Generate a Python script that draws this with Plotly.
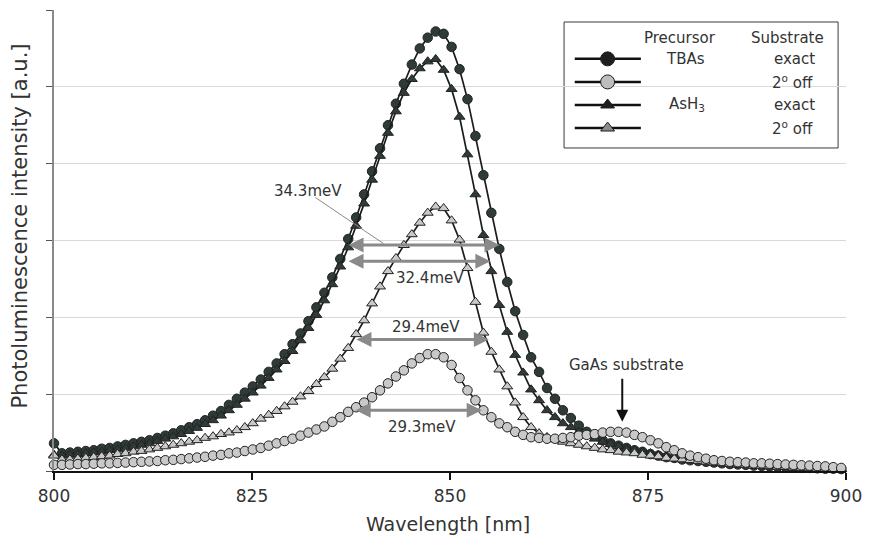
import plotly.graph_objects as go

# wavelength of each sample point as it sits on the reference's axis (100 points, ~1.004 nm apart)
wavelength = [round(800 + 1.004 * k, 3) for k in range(100)]

tbas_exact = [
    0.36, 0.23, 0.24, 0.25, 0.26, 0.27, 0.29, 0.30, 0.32, 0.34,
    0.36, 0.38, 0.40, 0.43, 0.46, 0.49, 0.53, 0.57, 0.61, 0.66,
    0.72, 0.78, 0.86, 0.94, 1.02, 1.10, 1.19, 1.29, 1.40, 1.52,
    1.65, 1.79, 1.95, 2.13, 2.32, 2.52, 2.76, 3.02, 3.30, 3.60,
    3.90, 4.20, 4.50, 4.78, 5.04, 5.29, 5.50, 5.64, 5.72, 5.69,
    5.52, 5.23, 4.84, 4.36, 3.85, 3.36, 2.89, 2.46, 2.08, 1.77,
    1.48, 1.29, 1.08, 0.94, 0.79, 0.69, 0.59, 0.51, 0.46, 0.40,
    0.36, 0.33, 0.30, 0.27, 0.25, 0.22, 0.20, 0.18, 0.17, 0.15,
    0.14, 0.13, 0.12, 0.11, 0.10, 0.09, 0.085, 0.08, 0.07, 0.065,
    0.06, 0.055, 0.05, 0.045, 0.04, 0.04, 0.035, 0.03, 0.03, 0.025,
]

tbas_off = [
    0.08, 0.08, 0.085, 0.09, 0.09, 0.095, 0.10, 0.10, 0.105, 0.11,
    0.115, 0.12, 0.125, 0.13, 0.14, 0.145, 0.155, 0.165, 0.175, 0.185,
    0.20, 0.21, 0.23, 0.24, 0.26, 0.28, 0.30, 0.33, 0.36, 0.39,
    0.42, 0.46, 0.50, 0.54, 0.58, 0.64, 0.70, 0.77, 0.83, 0.89,
    0.96, 1.05, 1.14, 1.23, 1.31, 1.40, 1.47, 1.52, 1.52, 1.48,
    1.38, 1.21, 1.05, 0.92, 0.79, 0.70, 0.62, 0.57, 0.51, 0.47,
    0.44, 0.43, 0.42, 0.42, 0.43, 0.44, 0.46, 0.47, 0.48, 0.50,
    0.51, 0.51, 0.50, 0.47, 0.44, 0.40, 0.36, 0.31, 0.27, 0.23,
    0.20, 0.18, 0.16, 0.14, 0.13, 0.12, 0.115, 0.11, 0.10, 0.10,
    0.095, 0.09, 0.085, 0.08, 0.075, 0.07, 0.065, 0.06, 0.05, 0.04,
]

ash3_exact = [
    0.21, 0.20, 0.21, 0.22, 0.23, 0.24, 0.25, 0.27, 0.28, 0.30,
    0.32, 0.34, 0.36, 0.39, 0.42, 0.45, 0.48, 0.52, 0.56, 0.61,
    0.66, 0.72, 0.79, 0.86, 0.94, 1.02, 1.11, 1.21, 1.32, 1.43,
    1.56, 1.70, 1.86, 2.03, 2.22, 2.43, 2.66, 2.91, 3.19, 3.48,
    3.79, 4.10, 4.40, 4.68, 4.92, 5.10, 5.24, 5.33, 5.36, 5.22,
    4.97, 4.61, 4.12, 3.60, 3.07, 2.60, 2.16, 1.81, 1.51, 1.28,
    1.06, 0.92, 0.79, 0.70, 0.62, 0.57, 0.51, 0.46, 0.42, 0.38,
    0.35, 0.32, 0.29, 0.27, 0.25, 0.23, 0.21, 0.19, 0.17, 0.16,
    0.14, 0.13, 0.12, 0.11, 0.10, 0.09, 0.085, 0.08, 0.07, 0.065,
    0.06, 0.055, 0.05, 0.045, 0.04, 0.04, 0.035, 0.03, 0.03, 0.025,
]

ash3_off = [
    0.20, 0.15, 0.15, 0.16, 0.17, 0.18, 0.19, 0.20, 0.22, 0.23,
    0.25, 0.26, 0.28, 0.30, 0.32, 0.34, 0.36, 0.38, 0.40, 0.43,
    0.45, 0.48, 0.50, 0.53, 0.57, 0.62, 0.68, 0.73, 0.78, 0.84,
    0.90, 0.97, 1.04, 1.13, 1.22, 1.33, 1.46, 1.60, 1.78, 1.96,
    2.18, 2.40, 2.60, 2.77, 2.94, 3.08, 3.23, 3.36, 3.44, 3.42,
    3.26, 3.01, 2.64, 2.20, 1.80, 1.55, 1.32, 1.10, 0.89, 0.70,
    0.57, 0.49, 0.44, 0.41, 0.38, 0.36, 0.34, 0.32, 0.30, 0.28,
    0.27, 0.25, 0.24, 0.23, 0.21, 0.20, 0.19, 0.17, 0.16, 0.15,
    0.14, 0.13, 0.12, 0.11, 0.10, 0.09, 0.085, 0.08, 0.07, 0.065,
    0.06, 0.055, 0.05, 0.045, 0.04, 0.035, 0.03, 0.03, 0.025, 0.02,
]

x_ticks = [800, 825, 850, 875, 900]
fwhm_labels = ["34.3meV", "32.4meV", "29.4meV", "29.3meV"]

FONT = "DejaVu Sans"
TXT = "#333333"
LINE = "#1c1c1c"
DARK = "#2f3b39"
LIGHT = "#c9c9c9"

fig = go.Figure()

series = [
    (tbas_exact, "circle", DARK),
    (ash3_exact, "triangle-up", DARK),
    (ash3_off, "triangle-up", LIGHT),
    (tbas_off, "circle", LIGHT),
]
for vals, sym, col in series:
    fig.add_trace(go.Scatter(
        x=wavelength, y=vals, mode="lines+markers", cliponaxis=False,
        line=dict(color=LINE, width=1.7),
        marker=dict(symbol=sym, size=9.5, color=col, line=dict(color="#222222", width=1)),
        showlegend=False, hoverinfo="skip",
    ))

# legend markers on an overlay axis in paper-like units
leg_x = 0.699
leg_rows = [0.894, 0.844, 0.794, 0.744]
leg_sym = ["circle", "circle", "triangle-up", "triangle-up"]
leg_col = ["#1e1e1e", "#bdbdbd", "#1e1e1e", "#8c8c8c"]
leg_size = [14, 14, 12, 12]
for yy, sym, col, sz in zip(leg_rows, leg_sym, leg_col, leg_size):
    fig.add_trace(go.Scatter(
        x=[leg_x], y=[yy], xaxis="x2", yaxis="y2", mode="markers",
        marker=dict(symbol=sym, size=sz, color=col, line=dict(color="#1e1e1e", width=1)),
        showlegend=False, hoverinfo="skip", cliponaxis=False,
    ))

shapes = [
    dict(type="rect", xref="paper", yref="paper", x0=0.644, x1=0.99, y0=0.7007, y1=0.974,
         line=dict(color="#3a3a3a", width=1), fillcolor="white", layer="between"),
]
for yy in leg_rows:
    shapes.append(dict(type="line", xref="paper", yref="paper", x0=0.6575, x1=0.741,
                       y0=yy, y1=yy, line=dict(color="#111111", width=2.5), layer="between"))
# leader line for 34.3meV
shapes.append(dict(type="line", xref="x", yref="y", x0=833.0, y0=3.56, x1=841.6, y1=2.96,
                   line=dict(color="#8a8a8a", width=1)))

annotations = []
# FWHM arrows (double headed)
arrows = [(837.0, 856.25, 2.94), (837.0, 855.1, 2.73), (838.0, 854.9, 1.71), (837.9, 854.0, 0.79)]
for x0, x1, yy in arrows:
    annotations.append(dict(
        x=x1, y=yy, ax=x0, ay=yy, xref="x", yref="y", axref="x", ayref="y",
        text="", showarrow=True, arrowhead=2, startarrowhead=2, arrowside="end+start",
        arrowsize=1.0, startarrowsize=1.0, arrowwidth=3, arrowcolor="#8a8a8a",
        standoff=0, startstandoff=0,
    ))
label_pos = [(832.1, 3.65), (847.5, 2.51), (847.0, 1.88), (846.5, 0.57)]
for txt, (lx, ly) in zip(fwhm_labels, label_pos):
    annotations.append(dict(x=lx, y=ly, xref="x", yref="y", text=txt, showarrow=False,
                            font=dict(family=FONT, size=15, color=TXT)))

# GaAs substrate
annotations.append(dict(x=872.25, y=1.38, xref="x", yref="y", text="GaAs substrate",
                        showarrow=False, font=dict(family=FONT, size=15, color=TXT)))
annotations.append(dict(x=871.75, y=0.64, ax=871.75, ay=1.22, xref="x", yref="y",
                        axref="x", ayref="y", text="", showarrow=True, arrowhead=2,
                        arrowsize=1.2, arrowwidth=2, arrowcolor="#111111", standoff=0))

# legend texts
def ptxt(t, x, y):
    annotations.append(dict(x=x, y=y, xref="paper", yref="paper", text=t, showarrow=False,
                            xanchor="center", yanchor="middle",
                            font=dict(family=FONT, size=15, color=TXT)))

ptxt("Precursor", 0.791, 0.939)
ptxt("Substrate", 0.926, 0.939)
ptxt("TBAs", 0.797, leg_rows[0])
ptxt("AsH<sub>3</sub>", 0.799, leg_rows[2])
ptxt("exact", 0.935, leg_rows[0])
ptxt("2<sup>o</sup> off", 0.9325, leg_rows[1])
ptxt("exact", 0.935, leg_rows[2])
ptxt("2<sup>o</sup> off", 0.9325, leg_rows[3])

# axis titles
annotations.append(dict(x=-0.0425, y=0.531, xref="paper", yref="paper",
                        text="Photoluminescence intensity [a.u.]", textangle=-90,
                        showarrow=False, xanchor="center", yanchor="middle",
                        font=dict(family=FONT, size=21, color=TXT)))
annotations.append(dict(x=0.4975, y=-0.115, xref="paper", yref="paper",
                        text="Wavelength [nm]", showarrow=False,
                        xanchor="center", yanchor="middle",
                        font=dict(family=FONT, size=19, color=TXT)))

fig.update_layout(
    width=872, height=539,
    margin=dict(l=54, r=18, t=10, b=68),
    paper_bgcolor="white", plot_bgcolor="white",
    font=dict(family=FONT, color=TXT),
    showlegend=False,
    xaxis=dict(range=[800, 900], tickvals=x_ticks, ticktext=[str(v) for v in x_ticks],
               ticks="outside", ticklen=7, tickcolor="#111111", tickwidth=1.5,
               showline=True, linecolor="#111111", linewidth=1.5,
               showgrid=False, zeroline=False, ticklabelstandoff=2,
               tickfont=dict(family=FONT, size=17, color=TXT)),
    yaxis=dict(range=[0, 6], dtick=1, tick0=0, showticklabels=False,
               ticks="outside", ticklen=6, tickcolor="#555555",
               showline=True, linecolor="#8a8a8a", linewidth=1.5,
               showgrid=True, gridcolor="#d9d9d9", gridwidth=1, zeroline=False),
    xaxis2=dict(overlaying="x", range=[0, 1], visible=False, anchor="y2"),
    yaxis2=dict(overlaying="y", range=[0, 1], visible=False, anchor="x2"),
    shapes=shapes,
    annotations=annotations,
)

fig.write_html("out.html")
